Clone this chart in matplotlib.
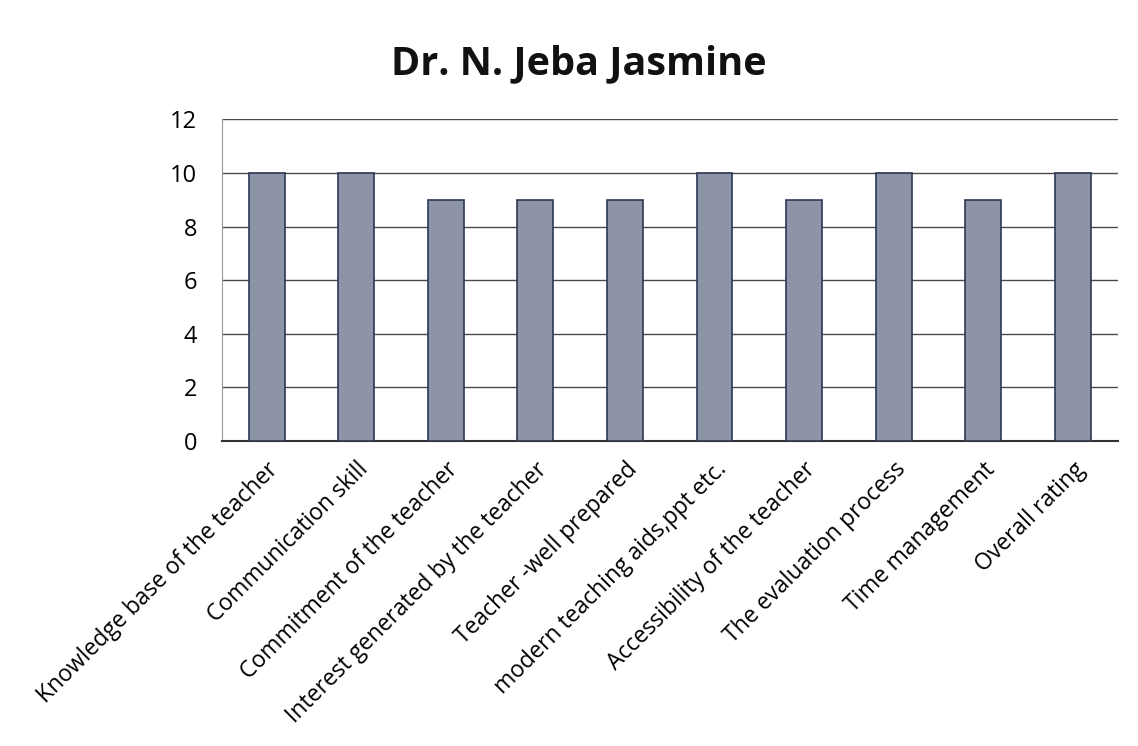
import matplotlib.pyplot as plt
import numpy as np

categories = ['Knowledge base of the teacher', 'Communication skill',
              'Commitment of the teacher', 'Interest generated by the teacher',
              'Teacher -well prepared', 'modern teaching aids,ppt etc.',
              'Accessibility of the teacher', 'The evaluation process',
              'Time management', 'Overall rating']
scores = [10, 10, 9, 9, 9, 10, 9, 10, 9, 10]
yticks = [0, 2, 4, 6, 8, 10, 12]

plt.rcParams['font.family'] = ['Open Sans', 'DejaVu Sans']

fig = plt.figure(figsize=(11.38, 7.46), dpi=100)
ax = fig.add_axes([0.195, 0.409, 0.787, 0.431])

x = np.arange(len(categories))
ax.bar(x, scores, width=0.4, color='#8e94a8', edgecolor='#2c3857', linewidth=1.2, zorder=3)

ax.set_xlim(-0.5, len(categories) - 0.5)
ax.set_ylim(0, 12)
ax.set_yticks(yticks)
ax.set_yticklabels([str(v) for v in yticks], fontsize=17)
ax.yaxis.grid(True, color='#4a4a4a', linewidth=1.0, zorder=0)
ax.set_xticks(x)
ax.set_xticklabels(categories, rotation=45, ha='right', rotation_mode='anchor', fontsize=16.5)
ax.tick_params(axis='y', length=0, pad=18)
ax.tick_params(axis='x', length=0, pad=12)

for s in ['top', 'right']:
    ax.spines[s].set_visible(False)
ax.spines['left'].set_color('#999999')
ax.spines['bottom'].set_color('#333333')
ax.spines['bottom'].set_linewidth(1.5)

fig.text(0.509, 0.914, 'Dr. N. Jeba Jasmine', fontsize=28.5, fontweight='bold',
         ha='center', va='center', color='#111111')

fig.savefig('out.png', dpi=100)
